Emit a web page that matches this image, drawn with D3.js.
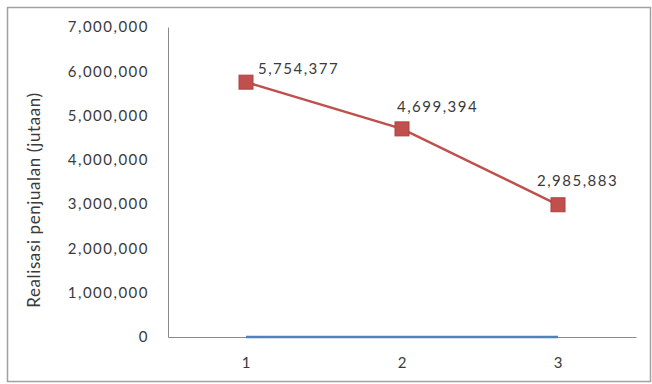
<!DOCTYPE html>
<html><head><meta charset="utf-8">
<script src="https://cdn.jsdelivr.net/npm/d3@7"></script>
<style>
html,body{margin:0;padding:0;background:#fff;}
text{font-family:Lato,"Open Sans",sans-serif;fill:#3a3a3a;}
</style></head>
<body><svg id="c" width="652" height="384"></svg>
<script>
const categories = ["1","2","3"];
const salesValues = [5754377, 4699394, 2985883];
const baseValues = [0, 0, 0];
const yTicks = [0,1000000,2000000,3000000,4000000,5000000,6000000,7000000];
const yTitle = "Realisasi penjualan (jutaan)";

const labelOffsets = [[12,-13],[-5,-22],[-21,-24]];

const svg = d3.select("#c");
svg.append("rect").attr("x",7.5).attr("y",7.5).attr("width",643).attr("height",374)
  .attr("fill","#fff").attr("stroke","#a0a0a0").attr("stroke-width",1.5);

const pLeft=168, pRight=636, pTop=27, pBottom=337;
const x = d3.scaleBand().domain(categories).range([pLeft,pRight]);
const y = d3.scaleLinear().domain([0,7000000]).range([pBottom,pTop]);
const cx = d => x(d)+x.bandwidth()/2;

const fmt = d3.format(",");
// y axis
const ya = svg.append("g").attr("transform",`translate(${pLeft},0)`)
  .call(d3.axisLeft(y).tickValues(yTicks).tickFormat(fmt).tickSize(0).tickPadding(19));
ya.select(".domain").attr("stroke","#8a8a8a").attr("stroke-width",1);
ya.selectAll("text").style("font-size","15px").style("letter-spacing","1.5px").attr("fill","#3a3a3a");

// x axis
const xa = svg.append("g").attr("transform",`translate(0,${pBottom})`)
  .call(d3.axisBottom(x).tickSize(0).tickPadding(20));
xa.select(".domain").attr("stroke","#8a8a8a").attr("stroke-width",1);
xa.selectAll("text").style("font-size","15px").attr("fill","#3a3a3a");

// y title
svg.append("text").attr("transform","translate(40,200) rotate(-90)")
  .attr("text-anchor","middle").style("font-size","17px").style("letter-spacing","0.6px").text(yTitle);

// blue base series
const line = d3.line().x((d,i)=>cx(categories[i])).y(d=>y(d));
svg.append("path").datum(baseValues).attr("d",line).attr("fill","none")
  .attr("stroke","#4F81BD").attr("stroke-width",2.5);

// red series
svg.append("path").datum(salesValues).attr("d",line).attr("fill","none")
  .attr("stroke","#C0504D").attr("stroke-width",2.5);
const ms=14;
svg.selectAll("rect.m").data(salesValues).join("rect").attr("class","m")
  .attr("x",(d,i)=>cx(categories[i])-ms/2).attr("y",d=>y(d)-ms/2)
  .attr("width",ms).attr("height",ms).attr("fill","#C0504D").attr("stroke","#B0403D").attr("stroke-width",1);

svg.selectAll("text.lbl").data(salesValues).join("text").attr("class","lbl")
  .attr("x",(d,i)=>cx(categories[i])+labelOffsets[i][0])
  .attr("y",(d,i)=>y(d)+labelOffsets[i][1]).attr("dy","0.35em")
  .style("font-size","15px").style("letter-spacing","1.5px").text(d=>fmt(d));
</script></body></html>
